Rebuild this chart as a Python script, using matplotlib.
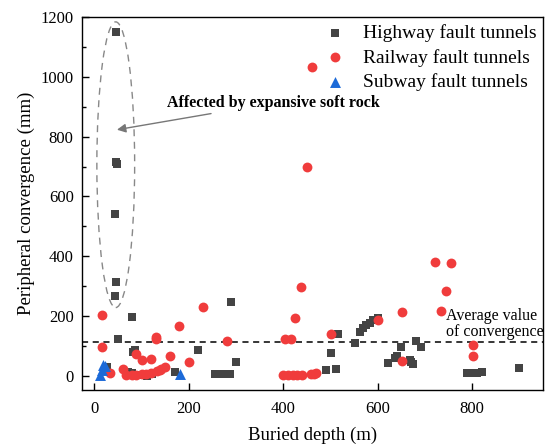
import matplotlib
matplotlib.use("Agg")
import matplotlib.pyplot as plt
from matplotlib.patches import Ellipse
from matplotlib.ticker import MultipleLocator

plt.rcParams['font.family'] = ['Liberation Serif', 'DejaVu Serif']
plt.rcParams['mathtext.fontset'] = 'stix'

# Highway fault tunnels
hw_x = [47, 46, 48, 44, 45, 43, 79, 50, 86, 83, 28, 72, 79, 97, 111, 122, 171,
        220, 289, 301, 255, 266, 276, 287,
        491, 511, 502, 516, 551, 562, 569, 576, 583, 590, 601,
        622, 636, 640, 650, 668, 671, 675, 682, 692,
        790, 800, 810, 820, 900]
hw_y = [1150, 715, 707, 541, 313, 266, 198, 124, 87, 79, 31, 14, 9, 3, 0, 7, 14,
        85, 248, 47, 6, 6, 6, 8,
        20, 23, 76, 140, 109, 148, 159, 171, 178, 187, 193,
        42, 59, 65, 98, 54, 45, 40, 117, 98,
        9, 10, 11, 13, 26]

# Railway fault tunnels
rw_x = [17, 16, 33, 60, 88, 100, 120, 130, 130, 160, 179, 201, 230,
        68, 79, 89, 100, 110, 121, 132, 139, 142, 150,
        280, 400, 403, 410, 417, 420, 424, 430, 438, 440, 450, 458, 460, 465, 470,
        501, 601, 651, 651, 722, 735, 745, 755, 802, 802]
rw_y = [203, 98, 11, 23, 74, 54, 58, 131, 124, 65, 167, 45, 230,
        4, 4, 4, 8, 8, 11, 16, 20, 24, 30,
        118, 4, 124, 4, 124, 3, 193, 3, 298, 4, 698, 6, 1033, 8, 10,
        139, 187, 213, 51, 380, 217, 283, 376, 104, 67]

# Subway fault tunnels
sw_x = [12, 16, 19, 22, 181]
sw_y = [3, 20, 37, 33, 7]

avg_conv = 115

fig = plt.figure(figsize=(5.48, 4.46), dpi=100)
ax = fig.add_axes([0.1496, 0.1256, 0.8414, 0.8364])

ax.scatter(hw_x, hw_y, marker='s', s=36, color='#444444', zorder=3,
           label='Highway fault tunnels', linewidths=0)
ax.scatter(rw_x, rw_y, marker='o', s=50, color='#f03c3c', zorder=3,
           label='Railway fault tunnels', linewidths=0)
ax.scatter(sw_x, sw_y, marker='^', s=62, color='#1c6ad8', zorder=4,
           label='Subway fault tunnels', linewidths=0)

ax.axhline(avg_conv, color='black', linestyle=(0, (4, 3)), linewidth=1.1, zorder=2)

ell = Ellipse((45.5, 706), 80, 955, fill=False, edgecolor='#888888',
              linestyle=(0, (5, 4)), linewidth=1.0, zorder=2)
ax.add_patch(ell)

ax.annotate('Affected by expansive soft rock', xy=(48, 823), xytext=(155, 913),
            fontsize=11.5, fontweight='bold', va='center', ha='left',
            arrowprops=dict(arrowstyle='-|>', color='#777777', lw=1.0,
                            shrinkA=0, shrinkB=0, mutation_scale=13))

ax.text(745, 120, 'Average value\nof convergence', fontsize=11.5,
        ha='left', va='bottom', linespacing=1.0)

ax.set_xlim(-26, 950)
ax.set_ylim(-47, 1200)
ax.xaxis.set_major_locator(MultipleLocator(200))
ax.yaxis.set_major_locator(MultipleLocator(200))
ax.yaxis.set_minor_locator(MultipleLocator(100))
ax.tick_params(axis='both', which='both', direction='in', labelsize=12)
ax.tick_params(axis='both', which='major', length=5, width=1)
ax.tick_params(axis='y', which='minor', length=3, width=1)
ax.tick_params(axis='x', which='major', pad=8)
ax.tick_params(axis='y', which='major', pad=6)
for sp in ax.spines.values():
    sp.set_linewidth(1.0)

ax.set_xlabel('Buried depth (m)', fontsize=13.5, labelpad=7)
ax.set_ylabel('Peripheral convergence (mm)', fontsize=13.5, labelpad=4)

leg = ax.legend(loc='upper right', frameon=False, fontsize=14, handletextpad=0.55,
                labelspacing=0.36, borderaxespad=0.15, borderpad=0.2,
                handlelength=1.7)

fig.savefig('out.png', dpi=100)
